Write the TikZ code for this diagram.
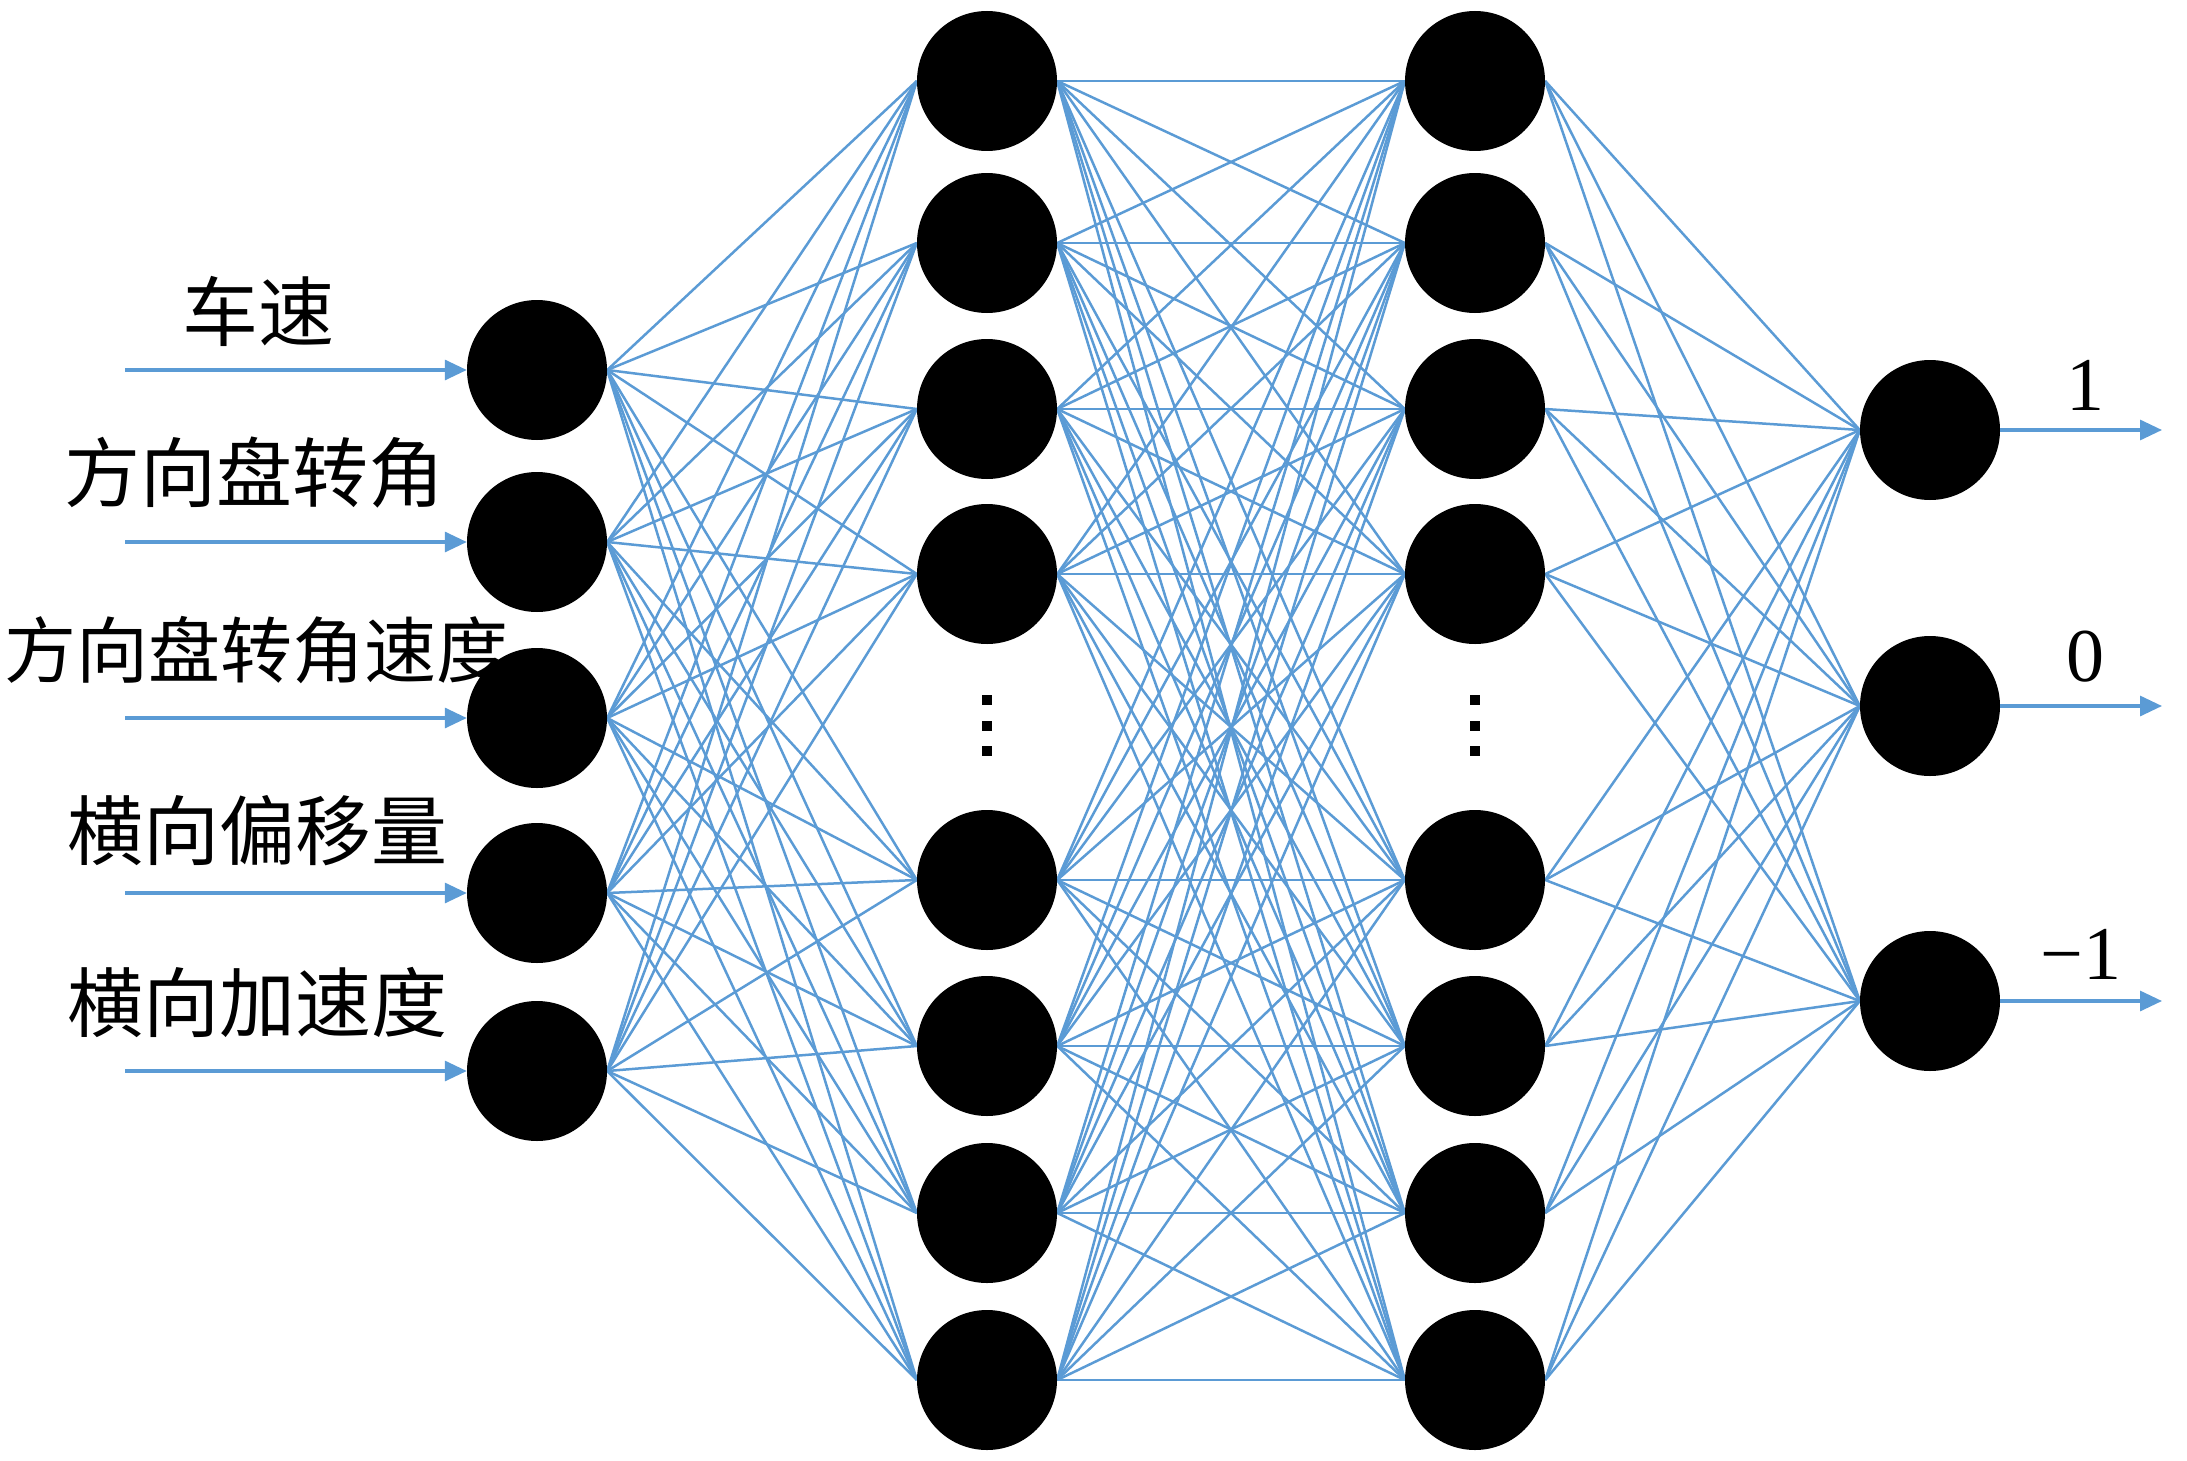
\documentclass[tikz,border=0pt]{standalone}
\usepackage{fontspec}
\setmainfont{Liberation Serif}
\newfontfamily\cjk{Noto Sans CJK SC}
\usetikzlibrary{arrows.meta,backgrounds}
\definecolor{linkblue}{RGB}{91,155,213}
\tikzset{
  neuron/.style={circle,fill=black,draw=none,minimum size=140pt,inner sep=0pt},
  dotmark/.style={rectangle,fill=black,minimum size=10pt,inner sep=0pt},
  link/.style={draw=linkblue,line width=2.5pt},
  inarrow/.style={draw=linkblue,line width=3.2pt,-{Triangle[length=22pt,width=20pt]}},
  inlabel/.style={font=\cjk\fontsize{76}{80}\selectfont,inner sep=0pt,anchor=center},
  outlabel/.style={font=\fontsize{76}{80}\selectfont,inner sep=0pt,anchor=base}
}
\begin{document}
\begin{tikzpicture}[x=1pt,y=-1pt]
\useasboundingbox (0,0) rectangle (2187,1461);
% input layer
\foreach \i/\y in {1/370,2/542,3/718,4/893,5/1071}{
  \node[neuron] (i\i) at (537,\y) {};
  \coordinate (s\i) at (125,\y);
}
% hidden layers
\foreach \j/\y in {1/81,2/243,3/409,4/574,5/880,6/1046,7/1213,8/1380}{
  \node[neuron] (a\j) at (987,\y) {};
  \node[neuron] (b\j) at (1475,\y) {};
}
% output layer
\foreach \k/\y in {1/430,2/706,3/1001}{
  \node[neuron] (o\k) at (1930,\y) {};
  \coordinate (e\k) at (2162,\y);
}
% ellipsis dots
\node[dotmark] (ad1) at (987,700) {};
\node[dotmark] (ad2) at (987,726) {};
\node[dotmark] (ad3) at (987,751) {};
\node[dotmark] (bd1) at (1475,700) {};
\node[dotmark] (bd2) at (1475,726) {};
\node[dotmark] (bd3) at (1475,751) {};
\begin{scope}[on background layer]
\foreach \i in {1,...,5}{\foreach \j in {1,...,8}{\draw[link] (i\i.east) -- (a\j.west);}}
\foreach \i in {1,...,8}{\foreach \j in {1,...,8}{\draw[link] (a\i.east) -- (b\j.west);}}
\foreach \i in {1,...,8}{\foreach \j in {1,...,3}{\draw[link] (b\i.east) -- (o\j.west);}}
\end{scope}
% input arrows
\foreach \i in {1,...,5}{\draw[inarrow] (s\i) -- (i\i.west);}
% output arrows
\foreach \k in {1,...,3}{\draw[inarrow] (o\k.east) -- (e\k);}
% labels
\node[inlabel] (l1) at (258,311) {车速};
\node[inlabel] (l2) at (254,473) {方向盘转角};
\node[inlabel,font=\cjk\fontsize{72}{76}\selectfont] (l3) at (257,650) {方向盘转角速度};
\node[inlabel] (l4) at (257,831) {横向偏移量};
\node[inlabel] (l5) at (257,1002) {横向加速度};
\node[outlabel] (r1) at (2085,410) {1};
\node[outlabel] (r2) at (2085,681) {0};
\node[outlabel] (r3) at (2081,979) {−1};
\end{tikzpicture}
\end{document}
